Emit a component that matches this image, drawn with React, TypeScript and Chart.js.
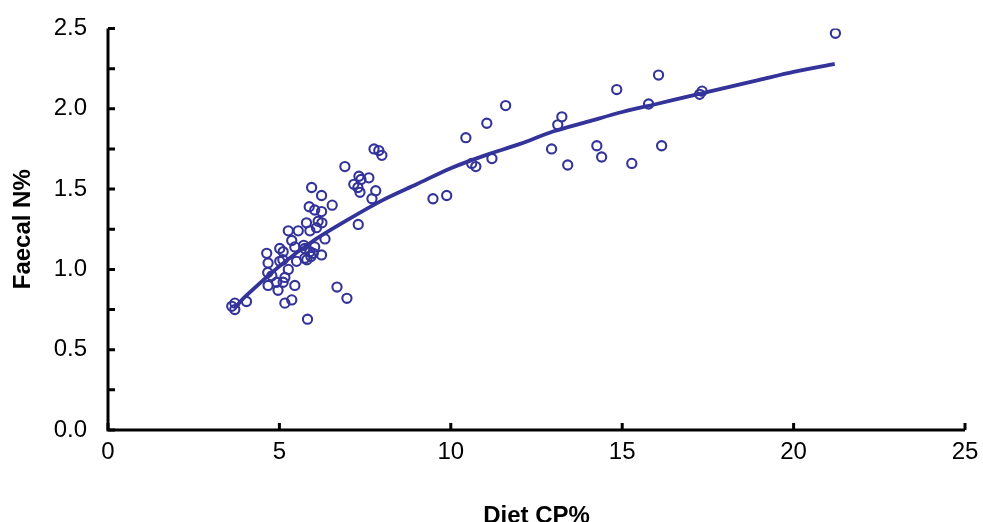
import React, { useEffect, useRef } from "react";
import { Chart, registerables } from "chart.js";

Chart.register(...registerables);

// Observed data: Diet CP% (x) vs Faecal N% (y)
const dietCP: number[] = [
  21.22, 16.06, 14.84, 15.77, 11.6, 11.05, 10.44, 13.24, 13.12, 12.94,
  13.41, 14.26, 14.4, 15.28, 16.15, 10.61, 10.73, 11.2, 9.48, 9.88,
  17.26, 17.33, 6.91, 7.76, 7.9, 7.99, 7.32, 7.38, 7.61, 7.17,
  7.29, 7.35, 7.81, 7.7, 6.54, 7.3, 5.94, 6.23, 5.87, 6.03,
  6.23, 6.13, 5.79, 6.24, 6.08, 5.26, 5.55, 5.89, 6.33, 5.36,
  5.01, 4.63, 5.11, 4.67, 5.01, 5.5, 5.74, 5.99, 6.23, 5.89,
  6.03, 5.74, 5.71, 5.45, 5.8, 5.92, 5.1, 5.26, 4.66, 4.78,
  5.16, 4.67, 4.92, 5.11, 4.96, 5.45, 3.7, 3.7, 4.04, 3.61,
  5.16, 5.36, 5.82, 6.68, 6.97,
];
const faecalN: number[] = [
  2.47, 2.21, 2.12, 2.03, 2.02, 1.91, 1.82, 1.95, 1.9, 1.75,
  1.65, 1.77, 1.7, 1.66, 1.77, 1.66, 1.64, 1.69, 1.44, 1.46,
  2.09, 2.11, 1.64, 1.75, 1.74, 1.71, 1.58, 1.56, 1.57, 1.53,
  1.51, 1.48, 1.49, 1.44, 1.4, 1.28, 1.51, 1.46, 1.39, 1.37,
  1.36, 1.3, 1.29, 1.29, 1.26, 1.24, 1.24, 1.24, 1.19, 1.18,
  1.13, 1.1, 1.11, 1.04, 1.05, 1.05, 1.07, 1.1, 1.09, 1.11,
  1.14, 1.13, 1.15, 1.14, 1.06, 1.08, 1.06, 1.0, 0.98, 0.96,
  0.95, 0.9, 0.92, 0.92, 0.87, 0.9, 0.79, 0.75, 0.8, 0.77,
  0.79, 0.81, 0.69, 0.89, 0.82,
];

// Fitted trend line
const trendX: number[] = [3.7, 4, 5, 6, 7, 8, 9, 10, 11, 12, 13, 14, 15, 16, 17, 18, 19, 20, 21.2];
const trendY: number[] = [0.76, 0.83, 1.02, 1.18, 1.31, 1.43, 1.53, 1.63, 1.71, 1.78, 1.86, 1.92, 1.98, 2.03, 2.08, 2.13, 2.18, 2.23, 2.28];

const xTicks: number[] = [0, 5, 10, 15, 20, 25];
const yTicks: number[] = [0, 0.5, 1, 1.5, 2, 2.5];
const yMinorStep = 0.25;

const xTitle = "Diet CP%";
const yTitle = "Faecal N%";
const COLOR = "#333399";
const FONT = "'Liberation Sans', Arial, sans-serif";

const axesPlugin = {
  id: "customAxes",
  afterDatasetsDraw(chart: any) {
    const { ctx, chartArea, scales } = chart;
    const xs = scales.x;
    const ys = scales.y;
    const left = chartArea.left;
    const bottom = chartArea.bottom;
    ctx.save();
    ctx.strokeStyle = "#000";
    ctx.lineWidth = 3;
    ctx.lineCap = "butt";
    ctx.beginPath();
    ctx.moveTo(left, ys.getPixelForValue(2.5));
    ctx.lineTo(left, bottom + 1.5);
    ctx.moveTo(left - 1.5, bottom);
    ctx.lineTo(xs.getPixelForValue(25), bottom);
    ctx.stroke();
    ctx.beginPath();
    for (let v = 0; v <= 2.5 + 1e-9; v += yMinorStep) {
      const py = ys.getPixelForValue(v);
      ctx.moveTo(left, py);
      ctx.lineTo(left + 7, py);
    }
    for (const t of xTicks) {
      const px = xs.getPixelForValue(t);
      ctx.moveTo(px, bottom);
      ctx.lineTo(px, bottom - 7);
    }
    ctx.stroke();
    ctx.restore();
  },
};

export default function App() {
  const ref = useRef<HTMLCanvasElement | null>(null);
  useEffect(() => {
    document.body.style.margin = "0";
    const canvas = ref.current;
    if (!canvas) return;
    const chart = new Chart(canvas, {
      type: "scatter",
      data: {
        datasets: [
          {
            label: "Observed",
            data: dietCP.map((x, i) => ({ x, y: faecalN[i] })),
            showLine: false,
            pointRadius: 4.6,
            pointBorderWidth: 2.1,
            pointBorderColor: COLOR,
            pointBackgroundColor: "rgba(255,255,255,0)",
            pointStyle: "circle",
            order: 2,
          },
          {
            label: "Trend",
            data: trendX.map((x, i) => ({ x, y: trendY[i] })),
            showLine: true,
            borderColor: COLOR,
            borderWidth: 3.8,
            pointRadius: 0,
            tension: 0.3,
            order: 1,
          },
        ],
      },
      options: {
        animation: false,
        responsive: false,
        devicePixelRatio: 1,
        layout: { padding: { left: 0, right: 18, top: 28.5, bottom: 0 } },
        plugins: { legend: { display: false }, tooltip: { enabled: false } },
        scales: {
          x: {
            type: "linear",
            min: 0,
            max: 25,
            afterBuildTicks: (s: any) => {
              s.ticks = xTicks.map((v) => ({ value: v }));
            },
            afterFit: (s: any) => {
              s.height = 92;
              s.paddingLeft = 0;
              s.paddingRight = 0;
            },
            grid: { display: false, drawTicks: false },
            border: { display: false },
            ticks: {
              color: "#000",
              padding: 8,
              maxRotation: 0,
              font: { family: FONT, size: 24 },
            },
            title: {
              display: true,
              text: xTitle,
              color: "#000",
              padding: { top: 0, bottom: -6 },
              font: { family: FONT, size: 24, weight: "bold", lineHeight: 1 },
            },
          },
          y: {
            type: "linear",
            min: 0,
            max: 2.5,
            afterBuildTicks: (s: any) => {
              s.ticks = yTicks.map((v) => ({ value: v }));
            },
            afterFit: (s: any) => {
              s.width = 108;
              s.paddingTop = 0;
              s.paddingBottom = 0;
            },
            grid: { display: false, drawTicks: false },
            border: { display: false },
            ticks: {
              color: "#000",
              padding: 21,
              callback: (v: any) => Number(v).toFixed(1),
              font: { family: FONT, size: 24 },
            },
            title: {
              display: true,
              text: yTitle,
              color: "#000",
              padding: { top: 11, bottom: 0 },
              font: { family: FONT, size: 24, weight: "bold", lineHeight: 1 },
            },
          },
        },
      },
      plugins: [axesPlugin],
    });
    return () => chart.destroy();
  }, []);
  return (
    <div style={{ width: 983, height: 522, background: "#fff" }}>
      <canvas ref={ref} width={983} height={522} style={{ display: "block" }} />
    </div>
  );
}
